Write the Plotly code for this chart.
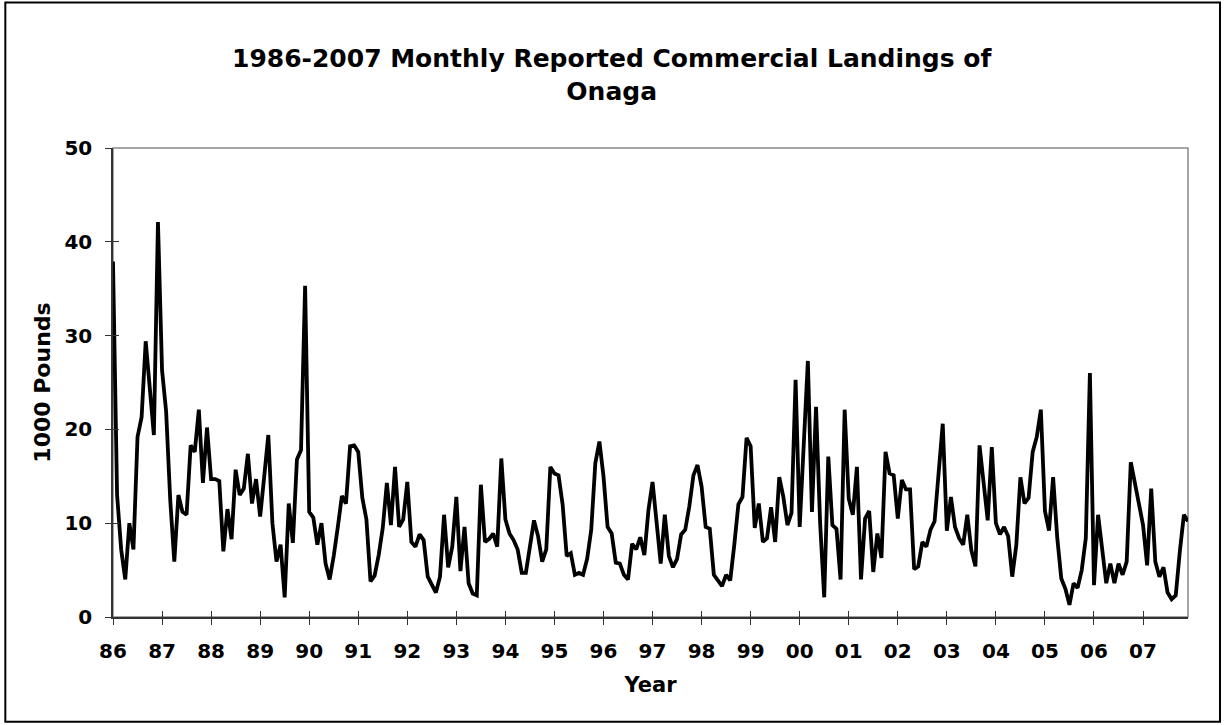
import plotly.graph_objects as go

# ---- data (1000 pounds, monthly, Jan 1986 - Dec 2007) ----
y1986 = [37.9, 13.0, 7.2, 4.0, 10.0, 7.2, 19.2, 21.3, 29.4, 24.4, 19.4, 42.1]
y1987 = [26.3, 21.9, 12.5, 5.9, 13.0, 11.2, 10.9, 18.3, 17.6, 22.1, 14.3, 20.2]
y1988 = [14.7, 14.7, 14.5, 7.0, 11.5, 8.3, 15.7, 13.0, 13.7, 17.4, 12.1, 14.7]
y1989 = [10.7, 15.0, 19.4, 10.0, 5.9, 7.7, 2.1, 12.1, 7.9, 16.8, 17.8, 35.3]
y1990 = [11.2, 10.6, 7.7, 10.0, 5.7, 4.0, 6.5, 9.6, 12.9, 12.1, 18.2, 18.3]
y1991 = [17.6, 12.7, 10.4, 3.8, 4.4, 6.6, 9.5, 14.3, 9.8, 16.0, 9.6, 10.4]
y1992 = [14.4, 8.0, 7.5, 8.8, 8.2, 4.3, 3.4, 2.6, 4.3, 10.9, 5.3, 7.5]
y1993 = [12.8, 4.9, 9.6, 3.6, 2.5, 2.3, 14.1, 8.0, 8.3, 8.9, 7.5, 16.9]
y1994 = [10.4, 8.9, 8.2, 7.2, 4.7, 4.7, 7.5, 10.3, 8.6, 5.9, 7.2, 16.0]
y1995 = [15.3, 15.1, 12.0, 6.5, 6.8, 4.5, 4.7, 4.5, 6.2, 9.3, 16.4, 18.7]
y1996 = [15.0, 9.6, 8.9, 5.8, 5.7, 4.5, 4.0, 7.8, 7.2, 8.5, 6.6, 11.4]
y1997 = [14.4, 10.0, 5.7, 10.9, 6.5, 5.3, 6.2, 8.8, 9.3, 11.8, 15.1, 16.2]
y1998 = [13.9, 9.6, 9.4, 4.5, 3.9, 3.3, 4.5, 3.9, 7.7, 12.0, 12.8, 19.1]
y1999 = [18.2, 9.5, 12.1, 8.0, 8.4, 11.7, 8.0, 14.9, 12.8, 9.8, 11.1, 25.3]
y2000 = [9.6, 19.0, 27.3, 11.2, 22.4, 10.0, 2.1, 17.1, 9.8, 9.4, 4.0, 22.1]
y2001 = [12.6, 10.9, 16.0, 4.0, 10.5, 11.3, 4.8, 8.9, 6.3, 17.6, 15.3, 15.1]
y2002 = [10.5, 14.6, 13.6, 13.6, 5.1, 5.4, 8.0, 7.5, 9.3, 10.2, 15.3, 20.6]
y2003 = [9.2, 12.8, 9.6, 8.4, 7.7, 10.9, 7.1, 5.4, 18.3, 13.9, 10.3, 18.1]
y2004 = [10.0, 8.8, 9.6, 8.6, 4.3, 7.7, 14.9, 12.1, 12.7, 17.6, 19.2, 22.1]
y2005 = [11.3, 9.2, 14.9, 8.5, 4.1, 3.0, 1.3, 3.6, 3.1, 5.0, 8.4, 26.0]
y2006 = [3.4, 10.9, 7.2, 3.6, 5.7, 3.6, 5.7, 4.5, 5.9, 16.5, 14.3, 12.0]
y2007 = [9.8, 5.5, 13.7, 5.9, 4.3, 5.3, 2.6, 1.9, 2.3, 7.0, 10.9, 10.2]

year_labels = ["86", "87", "88", "89", "90", "91", "92", "93", "94", "95", "96",
               "97", "98", "99", "00", "01", "02", "03", "04", "05", "06", "07"]
y_ticks = [0, 10, 20, 30, 40, 50]

years = [y1986, y1987, y1988, y1989, y1990, y1991, y1992, y1993, y1994, y1995, y1996,
         y1997, y1998, y1999, y2000, y2001, y2002, y2003, y2004, y2005, y2006, y2007]
values = [v for yr in years for v in yr]
months = list(range(len(values)))
tick_pos = [12 * k for k in range(len(year_labels))]

# ---- layout geometry (pixels) ----
W, H = 1225, 725
PL, PR, PT, PB = 112.7, 1188.0, 148.0, 617.3
pw, ph = PR - PL, PB - PT

def px(x):
    return (x - PL) / pw

def py(y):
    return (PB - y) / ph

FONT = "DejaVu Sans"
AXC = "#333"
fig = go.Figure()
fig.add_trace(go.Scatter(x=months, y=values, mode="lines",
                         line=dict(color="black", width=3.8), showlegend=False,
                         hoverinfo="x+y"))
# helper trace for the overlay axes (inner half of the crossing ticks)
fig.add_trace(go.Scatter(x=[None], y=[None], xaxis="x2", yaxis="y2", showlegend=False))

xr = [0, len(values) - 1]
yr = [0, 50]
fig.update_layout(
    width=W, height=H,
    margin=dict(l=PL, r=W - PR, t=PT, b=H - PB, pad=0),
    paper_bgcolor="white", plot_bgcolor="white",
    font=dict(family=FONT, color="black"),
    xaxis=dict(range=xr, tickvals=tick_pos, ticktext=["<b>%s</b>" % t for t in year_labels],
               ticks="outside", ticklen=6, tickwidth=1, tickcolor=AXC, showline=True,
               linecolor=AXC, linewidth=1.5, showgrid=False, zeroline=False,
               ticklabelstandoff=9,
               tickfont=dict(family=FONT, size=20, color="black"),
               title=dict(text="<b>Year</b>", font=dict(family=FONT, size=21), standoff=16)),
    yaxis=dict(range=yr, tickvals=y_ticks, ticktext=["<b>%d</b>" % t for t in y_ticks],
               ticks="outside", ticklen=6, tickwidth=1,
               tickcolor=AXC, showline=True, linecolor=AXC, linewidth=1.5,
               showgrid=False, zeroline=False, ticklabelstandoff=9,
               tickfont=dict(family=FONT, size=20, color="black"),
               title=dict(text="<b>1000 Pounds</b>", font=dict(family=FONT, size=22),
                          standoff=8)),
    xaxis2=dict(overlaying="x", range=xr, tickvals=tick_pos, ticks="inside", ticklen=6,
                tickwidth=1, tickcolor=AXC, showticklabels=False, showline=False,
                showgrid=False, zeroline=False, side="bottom"),
    yaxis2=dict(overlaying="y", range=yr, tickvals=y_ticks, ticks="inside", ticklen=6,
                tickwidth=1, tickcolor=AXC, showticklabels=False, showline=False,
                showgrid=False, zeroline=False, side="left"),
    showlegend=False,
)

# plot-area frame (gray) and outer chart border (black)
fig.add_shape(type="rect", xref="paper", yref="paper", x0=0, x1=1, y0=0, y1=1,
              line=dict(color="#888", width=1.5), layer="below")
fig.add_shape(type="rect", xref="paper", yref="paper",
              x0=px(5), x1=px(1220), y0=py(2.5), y1=py(722),
              line=dict(color="black", width=2))

# title
fig.add_annotation(xref="paper", yref="paper", x=px(612), y=py(75), xanchor="center",
                   yanchor="middle", showarrow=False, align="center",
                   text="<b>1986-2007 Monthly Reported Commercial Landings of<br>Onaga</b>",
                   font=dict(family=FONT, size=25, color="black"))

fig.write_html("out.html", config={"displayModeBar": False},
               post_script="document.body.style.margin='0';document.body.style.overflow='hidden';")
